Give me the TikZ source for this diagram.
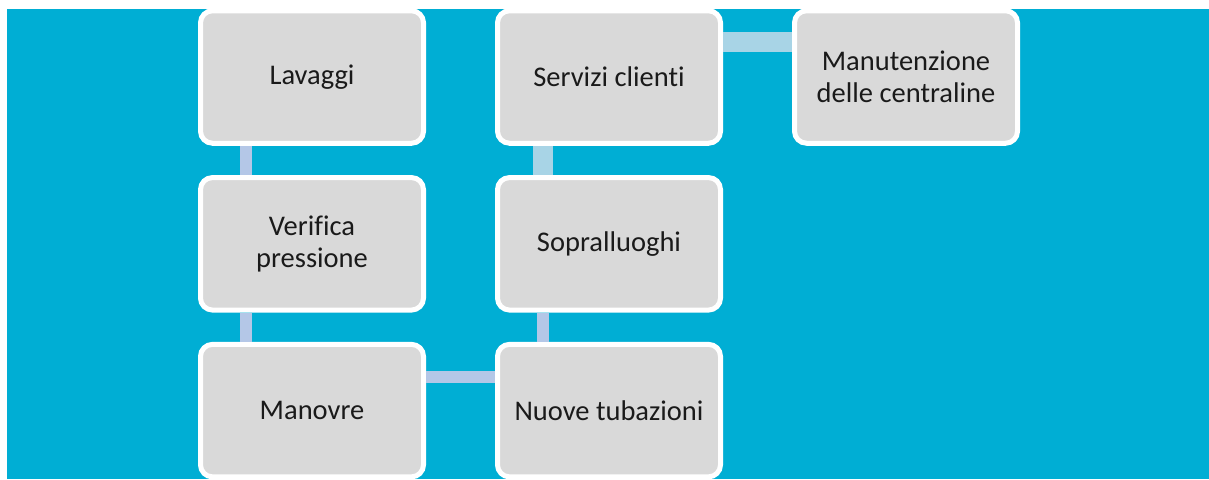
\documentclass[tikz,border=0pt]{standalone}
\usepackage{fontspec}
\setmainfont{Carlito}[Ligatures=NoCommon]
\usepackage{tikz}
\usepackage{color}
\definecolor{bgblue}{RGB}{0,174,212}
\definecolor{boxgray}{RGB}{217,217,217}
\definecolor{linklav}{RGB}{180,199,231}
\definecolor{linkcyan}{RGB}{168,212,230}
\definecolor{txtdark}{RGB}{26,26,26}
\tikzset{
  task/.style={draw=white, line width=5pt, fill=boxgray, rounded corners=12pt,
    minimum width=223pt, minimum height=132.5pt, inner sep=0pt, align=center,
    text=txtdark, font=\fontsize{28.5}{32}\selectfont},
  thinlink/.style={draw=linklav, line width=12pt},
  widelink/.style={draw=linkcyan, line width=20pt}
}

\begin{document}
\begin{tikzpicture}[x=1pt, y=-1pt]
          \useasboundingbox (0, 0) rectangle (1209, 479);
          \fill[white] (0, 0) rectangle (1209, 479);
          \fill[bgblue] (7, 9) rectangle (1209, 479);
          \node[task] (lav) at (312, 77) {Lavaggi};
          \node[task] (ver) at (312, 243.8) {Verifica\\pressione};
          \node[task] (man) at (312, 410.6) {Manovre};
          \node[task] (nuo) at (609, 410.6) {Nuove tubazioni};
          \node[task] (sop) at (609, 243.8) {Sopralluoghi};
          \node[task] (ser) at (609, 77) {Servizi clienti};
          \node[task] (cen) at (906, 77) {Manutenzione\\delle centraline};
          \draw[thinlink] ([xshift=-66pt]lav.south) -- ([xshift=-66pt]ver.north);
          \draw[thinlink] ([xshift=-66pt]ver.south) -- ([xshift=-66pt]man.north);
          \draw[thinlink] ([yshift=33.6pt]man.east) -- ([yshift=33.6pt]nuo.west);
          \draw[thinlink] ([xshift=-66.5pt]nuo.north) -- ([xshift=-66.5pt]sop.south);
          \draw[widelink] ([xshift=-66.5pt]sop.north) -- ([xshift=-66.5pt]ser.south);
          \draw[widelink] ([yshift=35pt]ser.east) -- ([yshift=35pt]cen.west);
\end{tikzpicture}
\end{document}
